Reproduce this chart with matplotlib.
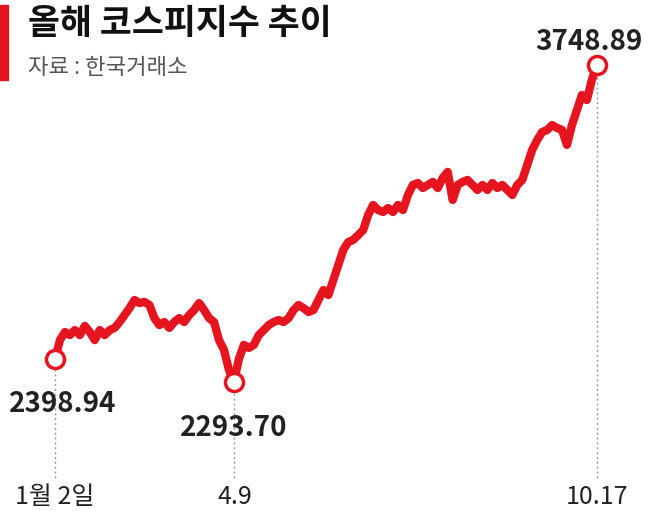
import matplotlib
matplotlib.use("Agg")
import matplotlib.pyplot as plt
from matplotlib.patches import Rectangle

plt.rcParams['font.family'] = ['Noto Sans CJK KR', 'DejaVu Sans']

values = [2398.94,2486,2523,2509,2532,2509,2551,2523,2486,2532,
          2509,2532,2542,2569,2601,2633,2670,2656,2661,2647,
          2587,2555,2569,2542,2569,2587,2569,2601,2624,2656,
          2624,2587,2569,2486,2441,2349,2293.70,
          2399,2464,2450,2464,2509,2532,2555,2569,2578,2569,
          2587,2624,2647,2633,2615,2624,2670,2716,2693,2762,
          2831,2900,2936,2946,2968,2991,3060,3106,3083,3074,
          3092,3074,3106,3083,3152,3198,3207,3184,3198,3212,
          3184,3230,3258,3129,3198,3212,3221,3198,3175,3198,
          3175,3207,3184,3198,3175,3152,3198,3221,3290,3359,
          3404,3441,3450,3473,3460,3450,3382,3473,3542,3611,
          3588,3680,3748.89]
mark_idx = [0, 36, len(values)-1]
mark_labels = ["2398.94", "2293.70", "3748.89"]
tick_labels = ["1월 2일", "4.9", "10.17"]

red = "#e5141f"
fig = plt.figure(figsize=(6.5, 5.22), dpi=100)
ax = fig.add_axes([0, 0, 1, 1])
ax.set_xlim(-11.06, 119.7)
ax.set_ylim(1651, 4047)
ax.axis('off')
x = list(range(len(values)))
ax.plot(x, values, color=red, lw=6, solid_joinstyle='round', solid_capstyle='round', zorder=3)

bottom_y = 1651 + (522-478)*4.59
tick_y = 1651 + (522-497)*4.59
for i, lab, tl in zip(mark_idx, mark_labels, tick_labels):
    v = values[i]
    ax.plot([i, i], [bottom_y, v], color="#999999", lw=1, ls=(0, (1.5, 2)), zorder=1)
    ax.plot(i, v, 'o', ms=13, mfc='white', mec=red, mew=2.5, zorder=4)
    ax.text(i + (0.2 if i == 36 else 0), tick_y, tl, ha='center', va='center', fontsize=18, color='#222222')

ax.text(mark_idx[0]+1.5, values[0]-205, mark_labels[0], ha='center', va='center', fontsize=20, fontweight='bold', color='#222222')
ax.text(mark_idx[1], values[36]-210, mark_labels[1], ha='center', va='center', fontsize=20, fontweight='bold', color='#222222')
ax.text(mark_idx[2]-1.5, values[-1]+105, mark_labels[2], ha='center', va='center', fontsize=20, fontweight='bold', color='#222222')

fig.patches.append(Rectangle((0, 1-80/522), 8/650, 75/522, transform=fig.transFigure, color=red))
fig.text(28/650, 1-24/522, "올해 코스피지수 추이", fontsize=25, fontweight='bold', va='center', ha='left', color='#111111')
fig.text(28/650, 1-68/522, "자료 : 한국거래소", fontsize=16, va='center', ha='left', color='#555555')
fig.savefig("out.png", dpi=100)
